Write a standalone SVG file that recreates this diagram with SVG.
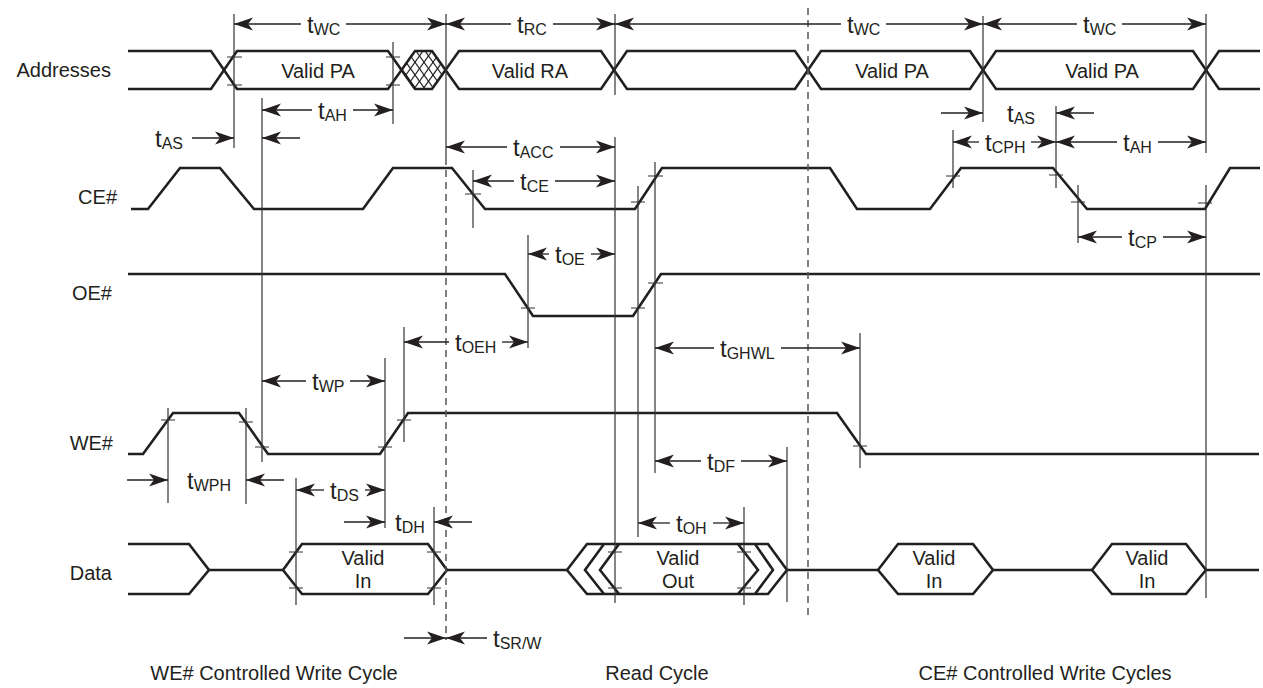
<svg xmlns="http://www.w3.org/2000/svg" width="1263" height="688" viewBox="0 0 1263 688">
<style>
.sig{fill:none;stroke:#231f20;stroke-width:2.6;stroke-linejoin:miter}
.ref{stroke:#333;stroke-width:1.2;fill:none}
.dash{stroke:#555;stroke-width:1.5;stroke-dasharray:7 5;fill:none}
.dim{stroke:#231f20;stroke-width:1.3;fill:none;marker-end:url(#ah)}
.hat{stroke:#231f20;stroke-width:1.2}
text{font-family:"Liberation Sans",Arial,Helvetica,sans-serif;fill:#231f20}
.lbl{font-size:20px}
.mid{text-anchor:middle}
.end{text-anchor:end}
.t{font-size:24px}
.s{font-size:16px}
</style>
<defs>
<marker id="ah" viewBox="-20 -8 21 16" markerWidth="21" markerHeight="16" refX="0" refY="0" orient="auto" markerUnits="userSpaceOnUse">
<path d="M0,0 L-19,-6.5 L-14,0 L-19,6.5 Z" fill="#231f20"/>
</marker>
<clipPath id="hexclip"><path d="M402,70 L415,51 H432 L446,70 L432,89 H415 Z"/></clipPath>
</defs>
<rect width="1263" height="688" fill="#fff"/>

<g id="signal-labels" class="lbl">
<text x="111" y="77" class="end">Addresses</text>
<text x="117" y="204" class="end">CE#</text>
<text x="112" y="300" class="end">OE#</text>
<text x="113" y="450" class="end">WE#</text>
<text x="112" y="580" class="end">Data</text>
</g>

<g id="addresses">
<path class="sig" d="M128,51 H211 L237,89 H388 L415,51 H432 L459,89 H601 L627,51 H795 L821,89 H970 L996,51 H1193 L1219,89 H1260"/>
<path class="sig" d="M128,89 H211 L237,51 H388 L415,89 H432 L459,51 H601 L627,89 H795 L821,51 H970 L996,89 H1193 L1219,51 H1260"/>
<g clip-path="url(#hexclip)">
<line class="hat" x1="389" y1="51" x2="416" y2="89"/>
<line class="hat" x1="398" y1="51" x2="425" y2="89"/>
<line class="hat" x1="407" y1="51" x2="434" y2="89"/>
<line class="hat" x1="416" y1="51" x2="443" y2="89"/>
<line class="hat" x1="425" y1="51" x2="452" y2="89"/>
<line class="hat" x1="434" y1="51" x2="461" y2="89"/>
<line class="hat" x1="414" y1="51" x2="387" y2="89"/>
<line class="hat" x1="423" y1="51" x2="396" y2="89"/>
<line class="hat" x1="432" y1="51" x2="405" y2="89"/>
<line class="hat" x1="441" y1="51" x2="414" y2="89"/>
<line class="hat" x1="450" y1="51" x2="423" y2="89"/>
<line class="hat" x1="459" y1="51" x2="432" y2="89"/>
</g>
<g class="lbl mid">
<text x="318" y="78">Valid PA</text>
<text x="530" y="78">Valid RA</text>
<text x="892" y="78">Valid PA</text>
<text x="1102" y="78">Valid PA</text>
</g>
</g>

<g id="ce">
<path class="sig" d="M131,209 H148 L180,168 H220 L254,209 H363 L393,168 H452 L485,209 H635 L662,168 H830 L857,209 H930 L961,168 H1053 L1087,209 H1205 L1230,168 H1260"/>
</g>

<g id="oe">
<path class="sig" d="M128,274 H505 L533,316 H633 L661,274 H1260"/>
</g>

<g id="we">
<path class="sig" d="M128,454 H143 L173,413 H239 L268,454 H380 L408,413 H837 L866,454 H1259"/>
</g>

<g id="data">
<path class="sig" d="M128,544 H189 L209,570 L189,594 H128"/>
<path class="sig" d="M209,570 H283 M447,570 H567 M787,570 H878 M993,570 H1092 M1206,570 H1259"/>
<path class="sig" d="M283,570 L302,544 H428 L447,570 L428,594 H302 Z"/>
<path class="sig" d="M567,570 L587,544 H768 L787,570 L768,594 H587 Z"/>
<path class="sig" d="M604,544 L585,570 L604,594 M619,544 L600,570 L619,594 M738,544 L758,570 L738,594 M755,544 L773,570 L755,594"/>
<path class="sig" d="M878,570 L898,544 H973 L993,570 L973,594 H898 Z"/>
<path class="sig" d="M1092,570 L1112,544 H1186 L1206,570 L1186,594 H1112 Z"/>
<g class="lbl mid">
<text x="363" y="565">Valid</text><text x="363" y="588">In</text>
<text x="678" y="565">Valid</text><text x="678" y="588">Out</text>
<text x="934" y="565">Valid</text><text x="934" y="588">In</text>
<text x="1147" y="565">Valid</text><text x="1147" y="588">In</text>
</g>
</g>

<g id="connectors">
<g id="reference-lines" class="ref">
<line x1="234" y1="14" x2="234" y2="148"/>
<line x1="262" y1="98" x2="262" y2="462"/>
<line x1="393" y1="42" x2="393" y2="124"/>
<line x1="446" y1="14" x2="446" y2="158"/>
<line x1="615" y1="14" x2="615" y2="95"/>
<line x1="615" y1="137" x2="615" y2="603"/>
<line x1="473" y1="170" x2="473" y2="228"/>
<line x1="638" y1="186" x2="638" y2="537"/>
<line x1="655" y1="162" x2="655" y2="473"/>
<line x1="528" y1="235" x2="528" y2="348"/>
<line x1="385" y1="358" x2="385" y2="528"/>
<line x1="404" y1="327" x2="404" y2="442"/>
<line x1="168" y1="408" x2="168" y2="503"/>
<line x1="246" y1="408" x2="246" y2="504"/>
<line x1="296" y1="478" x2="296" y2="605"/>
<line x1="434" y1="507" x2="434" y2="605"/>
<line x1="744" y1="507" x2="744" y2="605"/>
<line x1="787" y1="447" x2="787" y2="602"/>
<line x1="860" y1="333" x2="860" y2="468"/>
<line x1="983" y1="16" x2="983" y2="122"/>
<line x1="953" y1="130" x2="953" y2="188"/>
<line x1="1056" y1="106" x2="1056" y2="188"/>
<line x1="1078" y1="185" x2="1078" y2="243"/>
<line x1="1206" y1="14" x2="1206" y2="153"/>
<line x1="1206" y1="185" x2="1206" y2="598"/>
</g>
<g id="cycle-boundaries" class="dash">
<line x1="446" y1="158" x2="446" y2="640"/>
<line x1="808" y1="8" x2="808" y2="615"/>
</g>
<g id="ticks" class="ref">
<path d="M227,57 H242 M227,85 H242 M386,57 H400 M386,85 H400"/>
<path d="M465,194 H481 M631,202 H645 M648,176 H663 M946,176 H960 M1049,175 H1063 M1071,202 H1085 M1198,203 H1212"/>
<path d="M521,308 H535 M631,308 H645 M648,283 H663"/>
<path d="M161,420 H175 M239,422 H253 M255,447 H269 M378,447 H392 M397,420 H411 M853,446 H867"/>
<path d="M289,552 H303 M289,588 H303 M427,552 H441 M427,588 H441 M608,552 H622 M608,588 H622 M737,552 H751 M737,588 H751"/>
</g>
<g id="dimensions">
<path class="dim" d="M301,24 H234"/><path class="dim" d="M346,24 H446"/>
<path class="dim" d="M511,24 H446"/><path class="dim" d="M553,24 H615"/>
<path class="dim" d="M841,24 H615"/><path class="dim" d="M886,24 H983"/>
<path class="dim" d="M1077,24 H983"/><path class="dim" d="M1122,24 H1206"/>
<path class="dim" d="M312,110 H262"/><path class="dim" d="M353,110 H393"/>
<path class="dim" d="M192,138 H234"/><path class="dim" d="M300,138 H262"/>
<path class="dim" d="M507,147 H446"/><path class="dim" d="M560,147 H615"/>
<path class="dim" d="M514,181 H473"/><path class="dim" d="M555,181 H615"/>
<path class="dim" d="M549,254 H528"/><path class="dim" d="M591,254 H615"/>
<path class="dim" d="M449,342 H404"/><path class="dim" d="M502,342 H528"/>
<path class="dim" d="M714,348 H655"/><path class="dim" d="M781,348 H860"/>
<path class="dim" d="M306,381 H262"/><path class="dim" d="M350,381 H385"/>
<path class="dim" d="M127,480 H168"/><path class="dim" d="M284,480 H246"/>
<path class="dim" d="M324,490 H296"/><path class="dim" d="M365,490 H385"/>
<path class="dim" d="M344,522 H385"/><path class="dim" d="M472,522 H434"/>
<path class="dim" d="M404,638 H446"/><path class="dim" d="M487,638 H446"/>
<path class="dim" d="M701,461 H655"/><path class="dim" d="M741,461 H787"/>
<path class="dim" d="M670,523 H638"/><path class="dim" d="M713,523 H744"/>
<path class="dim" d="M941,113 H983"/><path class="dim" d="M1094,113 H1056"/>
<path class="dim" d="M979,142 H953"/><path class="dim" d="M1031,142 H1056"/>
<path class="dim" d="M1117,142 H1056"/><path class="dim" d="M1158,142 H1206"/>
<path class="dim" d="M1122,237 H1078"/><path class="dim" d="M1163,237 H1206"/>
</g>
<g id="timing-labels">
<text x="307" y="33" class="t">t<tspan class="s" dy="2">WC</tspan></text>
<text x="517" y="33" class="t">t<tspan class="s" dy="2">RC</tspan></text>
<text x="847" y="33" class="t">t<tspan class="s" dy="2">WC</tspan></text>
<text x="1083" y="33" class="t">t<tspan class="s" dy="2">WC</tspan></text>
<text x="318" y="119" class="t">t<tspan class="s" dy="2">AH</tspan></text>
<text x="155" y="147" class="t">t<tspan class="s" dy="2">AS</tspan></text>
<text x="513" y="156" class="t">t<tspan class="s" dy="2">ACC</tspan></text>
<text x="520" y="190" class="t">t<tspan class="s" dy="2">CE</tspan></text>
<text x="555" y="263" class="t">t<tspan class="s" dy="2">OE</tspan></text>
<text x="455" y="351" class="t">t<tspan class="s" dy="2">OEH</tspan></text>
<text x="720" y="357" class="t">t<tspan class="s" dy="2">GHWL</tspan></text>
<text x="312" y="390" class="t">t<tspan class="s" dy="2">WP</tspan></text>
<text x="187" y="489" class="t">t<tspan class="s" dy="2">WPH</tspan></text>
<text x="330" y="499" class="t">t<tspan class="s" dy="2">DS</tspan></text>
<text x="395" y="531" class="t">t<tspan class="s" dy="2">DH</tspan></text>
<text x="493" y="647" class="t">t<tspan class="s" dy="2">SR/W</tspan></text>
<text x="707" y="470" class="t">t<tspan class="s" dy="2">DF</tspan></text>
<text x="676" y="532" class="t">t<tspan class="s" dy="2">OH</tspan></text>
<text x="1007" y="122" class="t">t<tspan class="s" dy="2">AS</tspan></text>
<text x="985" y="151" class="t">t<tspan class="s" dy="2">CPH</tspan></text>
<text x="1123" y="151" class="t">t<tspan class="s" dy="2">AH</tspan></text>
<text x="1128" y="246" class="t">t<tspan class="s" dy="2">CP</tspan></text>
</g>
</g>

<g id="cycle-labels" class="lbl mid">
<text x="274" y="680">WE# Controlled Write Cycle</text>
<text x="657" y="680">Read Cycle</text>
<text x="1045" y="680">CE# Controlled Write Cycles</text>
</g>
</svg>
